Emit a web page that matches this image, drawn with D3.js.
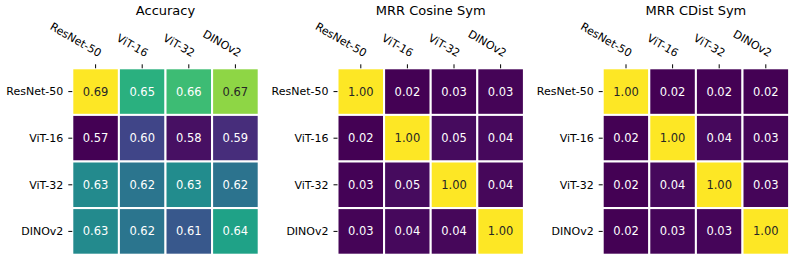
<!DOCTYPE html>
<html>
<head>
<meta charset="utf-8">
<script src="https://cdn.jsdelivr.net/npm/d3@7"></script>
<style>
  body { margin: 0; background: #fff; }
  text { font-family: "DejaVu Sans", sans-serif; }
</style>
</head>
<body>
<div class="chart"></div>
<script>
var width = 797;
var height = 263;

var models = ["ResNet-50", "ViT-16", "ViT-32", "DINOv2"];
var titles = ["Accuracy", "MRR Cosine Sym", "MRR CDist Sym"];

// rows = query model, cols = target model
var accuracy = [
  [0.692, 0.649, 0.655, 0.672],
  [0.574, 0.598, 0.579, 0.589],
  [0.630, 0.620, 0.631, 0.619],
  [0.630, 0.620, 0.606, 0.642]
];
var mrrCosine = [
  [1.00, 0.021, 0.028, 0.029],
  [0.021, 1.00, 0.049, 0.041],
  [0.028, 0.049, 1.00, 0.039],
  [0.029, 0.041, 0.039, 1.00]
];
var mrrCdist = [
  [1.00, 0.018, 0.021, 0.020],
  [0.018, 1.00, 0.041, 0.032],
  [0.021, 0.041, 1.00, 0.030],
  [0.020, 0.032, 0.030, 1.00]
];
var matrices = [accuracy, mrrCosine, mrrCdist];

var panelOffset = 265.2;
var mapLeft = 72.3, mapTop = 68.3, mapSize = 186.4;

var svg = d3.select(".chart").append("svg")
    .attr("width", width)
    .attr("height", height);

// same rule seaborn uses to pick annotation colour
var luminance = function(c) {
  var rgb = d3.rgb(c);
  var lin = [rgb.r, rgb.g, rgb.b].map(function(v) {
    v = v / 255;
    return v <= 0.03928 ? v / 12.92 : Math.pow((v + 0.055) / 1.055, 2.4);
  });
  return 0.2126 * lin[0] + 0.7152 * lin[1] + 0.0722 * lin[2];
};

matrices.forEach(function(m, p) {
  var g = svg.append("g")
      .attr("transform", "translate(" + (mapLeft + p * panelOffset) + "," + mapTop + ")");

  var x = d3.scaleBand().domain(models).range([0, mapSize]);
  var y = d3.scaleBand().domain(models).range([0, mapSize]);
  var flat = d3.merge(m);
  var color = d3.scaleSequential(d3.interpolateViridis)
      .domain([d3.min(flat), d3.max(flat)]);

  var cells = [];
  m.forEach(function(row, i) {
    row.forEach(function(v, j) {
      cells.push({ row: models[i], col: models[j], value: v });
    });
  });

  g.selectAll("rect")
      .data(cells)
      .enter().append("rect")
      .attr("x", function(d) { return x(d.col); })
      .attr("y", function(d) { return y(d.row); })
      .attr("width", x.bandwidth())
      .attr("height", y.bandwidth())
      .style("fill", function(d) { return color(d.value); })
      .style("stroke", "#fff")
      .style("stroke-width", 2);

  g.selectAll("text.annot")
      .data(cells)
      .enter().append("text")
      .attr("class", "annot")
      .attr("x", function(d) { return x(d.col) + x.bandwidth() / 2; })
      .attr("y", function(d) { return y(d.row) + y.bandwidth() / 2; })
      .attr("text-anchor", "middle")
      .attr("dominant-baseline", "central")
      .style("font-size", "11.5px")
      .style("fill", function(d) { return luminance(color(d.value)) > 0.408 ? "#262626" : "#fff"; })
      .text(function(d) { return d.value.toFixed(2); });

  // y axis
  var yAxis = g.append("g").call(d3.axisLeft(y).tickSize(4).tickPadding(5));
  yAxis.select(".domain").remove();
  yAxis.selectAll("text").style("font-size", "11px").style("fill", "#000")
      .attr("dy", "0.35em");

  // x axis on top, labels rotated
  var xAxis = g.append("g").call(d3.axisTop(x).tickSize(4).tickPadding(0));
  xAxis.select(".domain").remove();
  xAxis.selectAll("text").remove();
  xAxis.selectAll(".tick").append("text")
      .attr("text-anchor", "end")
      .attr("transform", "translate(3,-11) rotate(30)")
      .style("font-size", "11px")
      .style("fill", "#000")
      .text(function(d) { return d; });

  g.append("text")
      .attr("x", mapSize / 2)
      .attr("y", 14.5 - mapTop)
      .attr("text-anchor", "middle")
      .style("font-size", "13px")
      .text(titles[p]);
});
</script>
</body>
</html>
